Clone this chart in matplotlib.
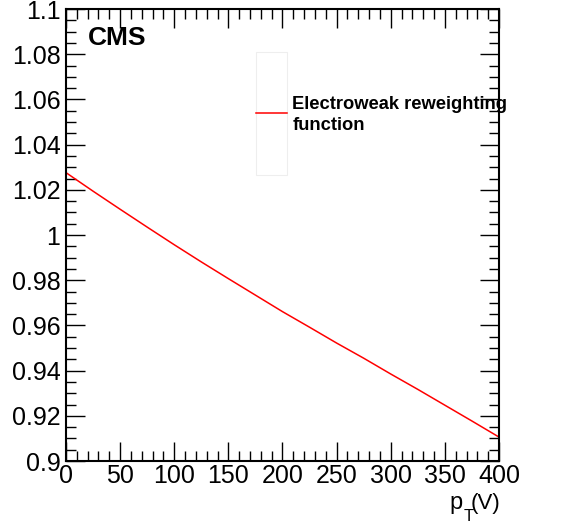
import numpy as np
import matplotlib
matplotlib.use("Agg")
import matplotlib.pyplot as plt
from matplotlib.ticker import MultipleLocator
from matplotlib.patches import Rectangle
from matplotlib.lines import Line2D

plt.rcParams['font.family'] = ['Liberation Sans', 'DejaVu Sans']

# electroweak reweighting function
pt = [0, 25, 50, 75, 100, 125, 150, 175, 200, 225, 250, 275, 300, 325, 350, 375, 400]
weight = [1.0276, 1.0194, 1.0114, 1.0035, 0.9957, 0.9881, 0.9807, 0.9734, 0.9661,
          0.9592, 0.9522, 0.9455, 0.9385, 0.9317, 0.9247, 0.9177, 0.9106]
ytick_vals = [0.9, 0.92, 0.94, 0.96, 0.98, 1.0, 1.02, 1.04, 1.06, 1.08, 1.1]
ytick_labels = ['0.9', '0.92', '0.94', '0.96', '0.98', '1', '1.02', '1.04', '1.06', '1.08', '1.1']
legend_label = "Electroweak reweighting\nfunction"

fig = plt.figure(figsize=(5.63, 5.24), dpi=100)
ax = fig.add_axes([0.1172, 0.1202, 0.7691, 0.8626])

ax.plot(pt, weight, color='#ff0000', lw=1.1)

ax.set_xlim(0, 400)
ax.set_ylim(0.9, 1.1)
ax.xaxis.set_major_locator(MultipleLocator(50))
ax.xaxis.set_minor_locator(MultipleLocator(10))
ax.set_yticks(ytick_vals)
ax.set_yticklabels(ytick_labels)
ax.yaxis.set_minor_locator(MultipleLocator(0.005))
ax.tick_params(which='both', direction='in', top=True, right=True, labelsize=18, width=1)
ax.tick_params(which='major', length=14, pad=2)
ax.tick_params(which='minor', length=7)
ax.tick_params(axis='y', pad=4)
for s in ax.spines.values():
    s.set_linewidth(1.5)

# x title p_T(V), right-aligned under the axis (ROOT style)
fig.text(500 / 563, 15 / 524, "(V)", ha='right', va='baseline', fontsize=16)
fig.text(474 / 563, 3 / 524, "T", ha='right', va='baseline', fontsize=12)
fig.text(463 / 563, 15 / 524, "p", ha='right', va='baseline', fontsize=17)

ax.text(0.05, 0.935, "CMS", transform=ax.transAxes, fontsize=19,
        fontweight='bold', ha='left', va='center')

# legend drawn by hand, ROOT style
ax.add_patch(Rectangle((0.439, 0.633), 0.071, 0.2725, transform=ax.transAxes,
                       fill=False, edgecolor='#eeeeee', lw=0.8))
ax.add_line(Line2D([0.439, 0.510], [0.7706, 0.7706], transform=ax.transAxes,
                   color='#ff0000', lw=1.1))
ax.text(0.523, 0.766, legend_label, transform=ax.transAxes, fontsize=13.2,
        fontweight='bold', ha='left', va='center', linespacing=1.35)

fig.savefig("out.png", dpi=100)
